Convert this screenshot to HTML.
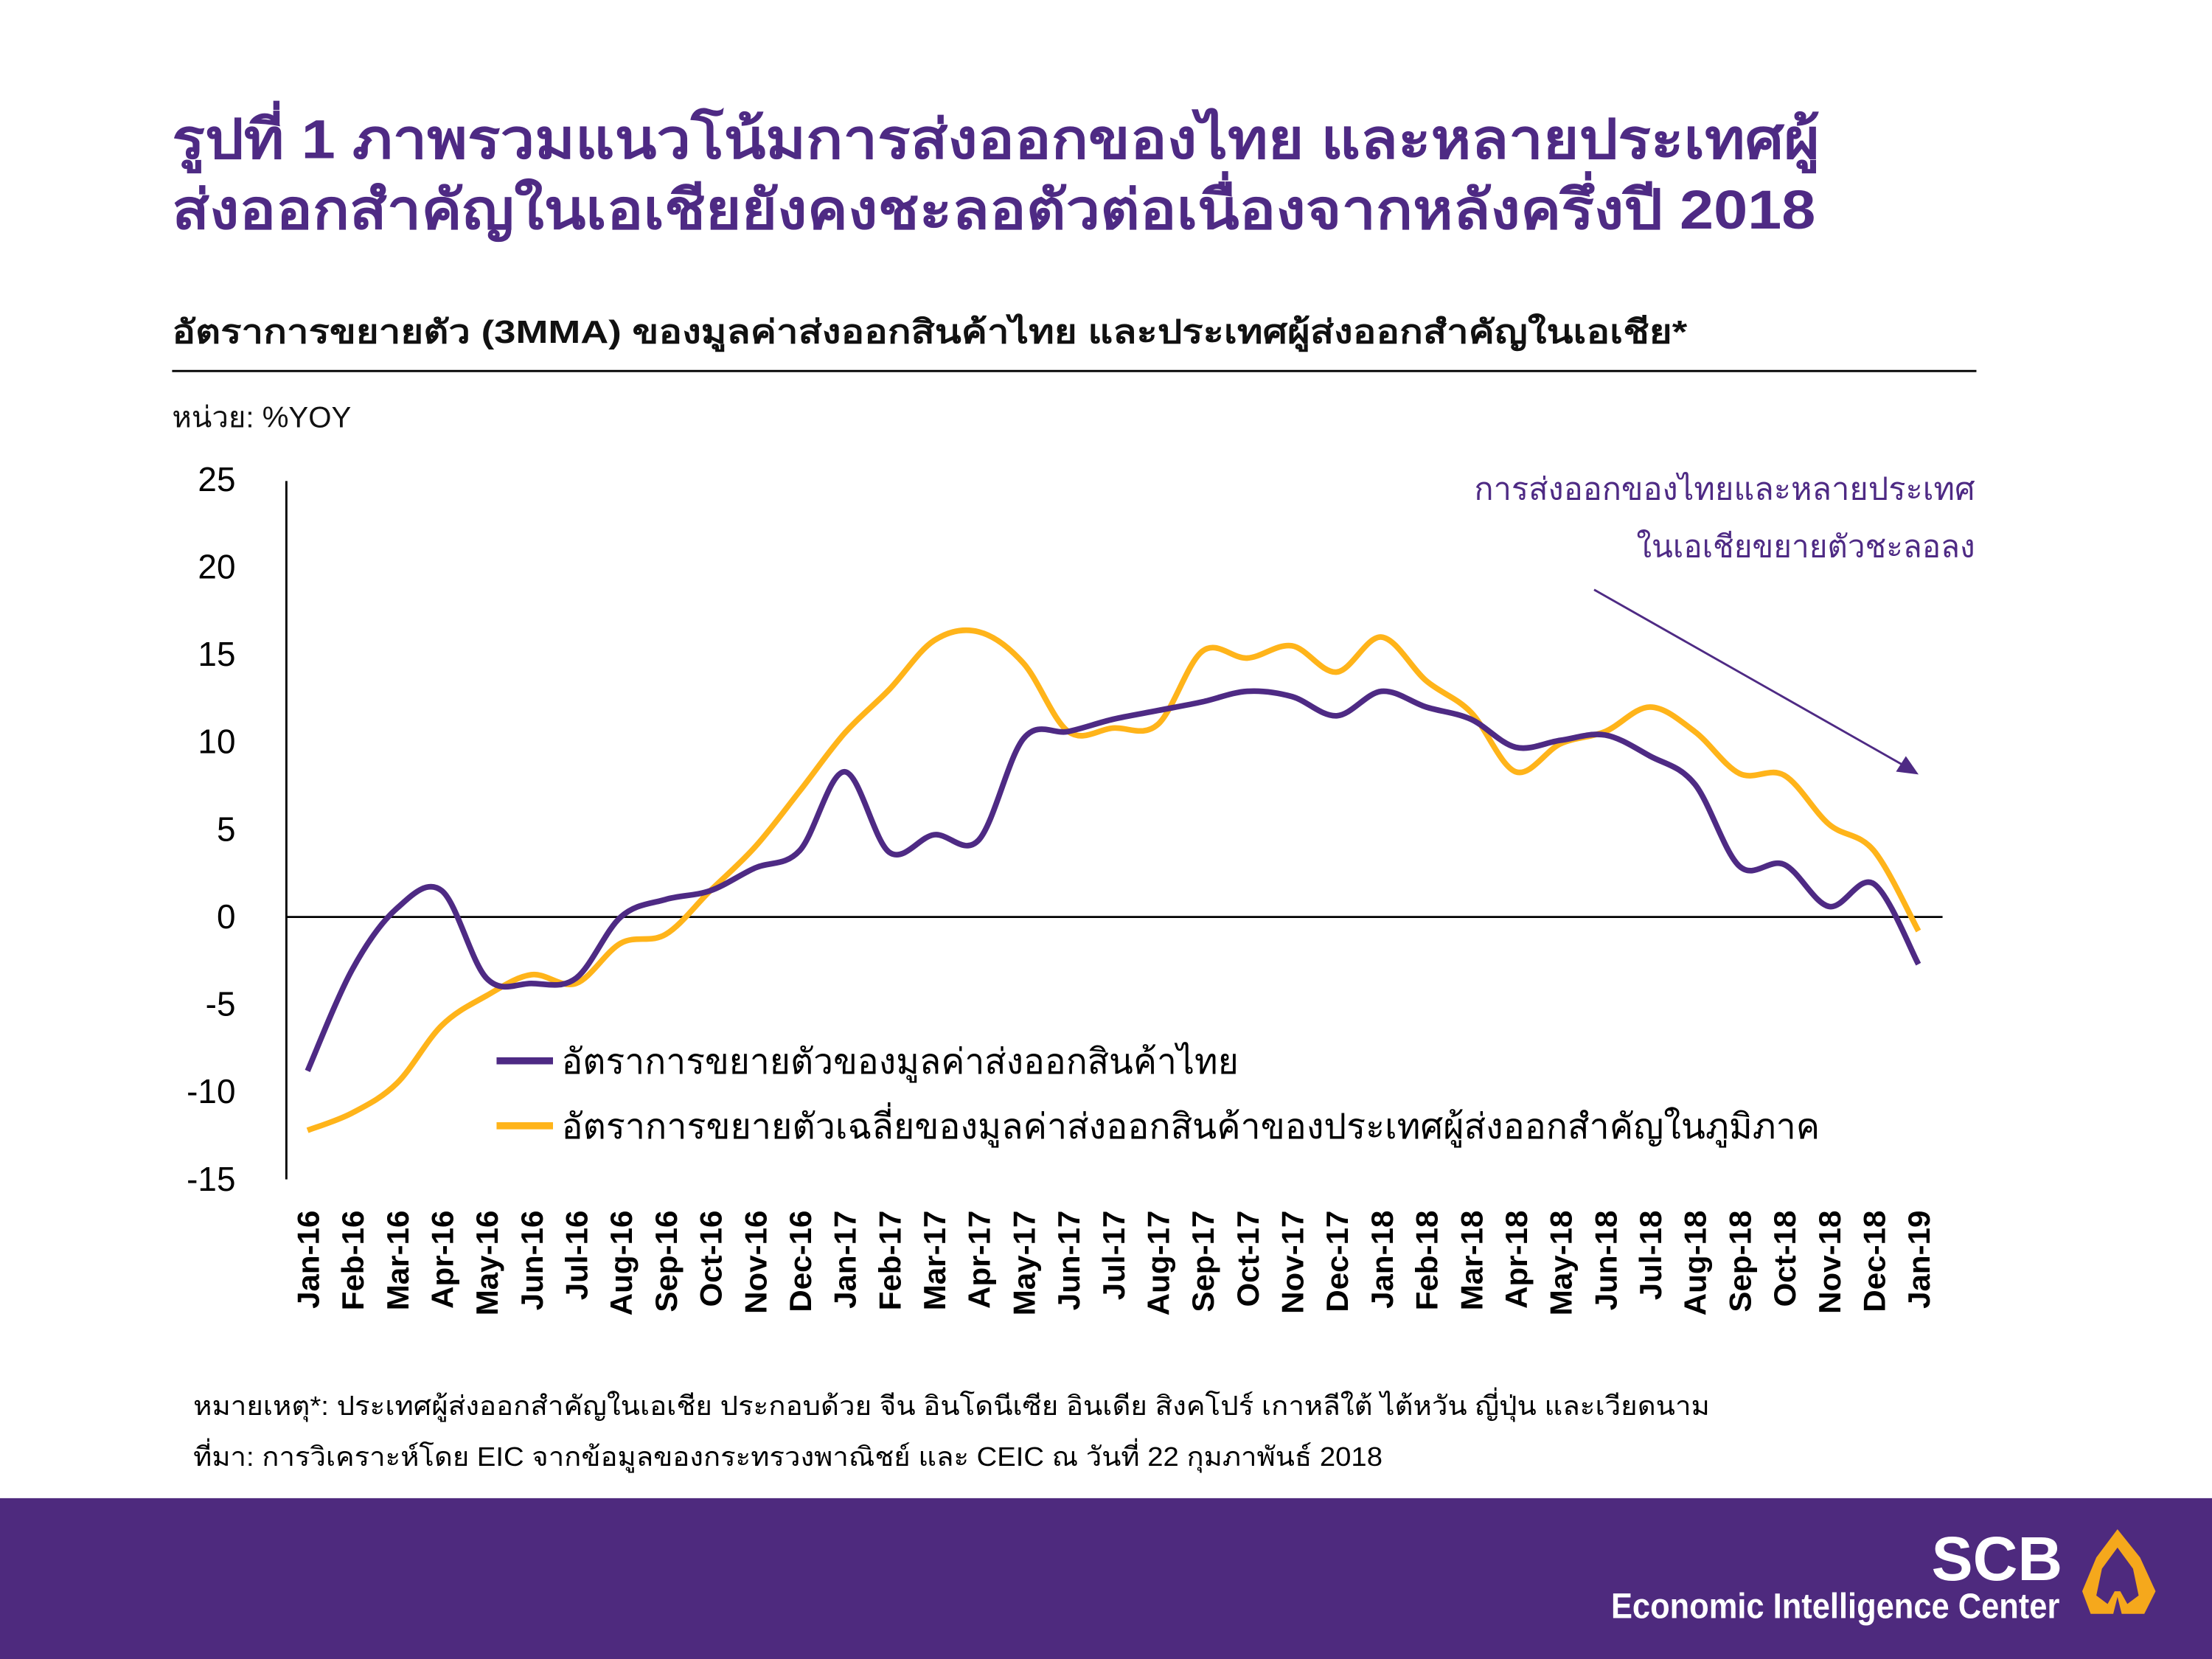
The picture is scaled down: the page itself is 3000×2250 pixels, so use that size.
<!DOCTYPE html>
<html><head><meta charset="utf-8">
<style>
html,body{margin:0;padding:0;background:#fff;}
svg{display:block;}
text{font-family:"Liberation Sans","DejaVu Sans",sans-serif;}
</style></head>
<body>
<svg id="s" width="3000" height="2250" viewBox="0 0 1568 1176" xmlns="http://www.w3.org/2000/svg">
<rect width="1568" height="1176" fill="#fff"/>
<text x="122" y="112" font-size="39" font-weight="bold" fill="#4e2a84" textLength="1168" lengthAdjust="spacingAndGlyphs">รูปที่ 1 ภาพรวมแนวโน้มการส่งออกของไทย และหลายประเทศผู้</text>
<text x="122" y="162" font-size="39" font-weight="bold" fill="#4e2a84" textLength="1165" lengthAdjust="spacingAndGlyphs">ส่งออกสำคัญในเอเชียยังคงชะลอตัวต่อเนื่องจากหลังครึ่งปี 2018</text>
<text x="122" y="243" font-size="23" font-weight="bold" fill="#111" textLength="1074" lengthAdjust="spacingAndGlyphs">อัตราการขยายตัว (3MMA) ของมูลค่าส่งออกสินค้าไทย และประเทศผู้ส่งออกสำคัญในเอเชีย*</text>
<line x1="122" y1="263" x2="1401" y2="263" stroke="#000" stroke-width="1.5"/>
<text x="122" y="303" font-size="21" fill="#111">หน่วย: %YOY</text>
<g font-size="24" fill="#000" text-anchor="end">
<text x="167" y="348">25</text><text x="167" y="410">20</text><text x="167" y="472">15</text>
<text x="167" y="534">10</text><text x="167" y="596">5</text><text x="167" y="658">0</text>
<text x="167" y="720">-5</text><text x="167" y="782">-10</text><text x="167" y="844">-15</text>
</g>
<line x1="203" y1="341" x2="203" y2="836" stroke="#000" stroke-width="1.5"/>
<line x1="203" y1="650" x2="1377" y2="650" stroke="#000" stroke-width="1.5"/>
<g id="xl" font-size="22" font-weight="bold" fill="#000"></g>
<path id="py" fill="none" stroke="#ffb41a" stroke-width="4"/>
<path id="pp" fill="none" stroke="#4e2a84" stroke-width="4"/>
<text x="1400" y="354" font-size="22" fill="#4e2a84" text-anchor="end" textLength="355" lengthAdjust="spacingAndGlyphs">การส่งออกของไทยและหลายประเทศ</text>
<text x="1400" y="395" font-size="22" fill="#4e2a84" text-anchor="end" textLength="240" lengthAdjust="spacingAndGlyphs">ในเอเชียขยายตัวชะลอลง</text>
<line x1="1130" y1="418" x2="1352" y2="544" stroke="#4e2a84" stroke-width="1.5"/>
<polygon points="1360,549 1344,547 1351,536" fill="#4e2a84"/>
<line x1="352" y1="752" x2="392" y2="752" stroke="#4e2a84" stroke-width="5"/>
<line x1="352" y1="798" x2="392" y2="798" stroke="#ffb41a" stroke-width="5"/>
<text x="398" y="761" font-size="25" fill="#000" textLength="480" lengthAdjust="spacingAndGlyphs">อัตราการขยายตัวของมูลค่าส่งออกสินค้าไทย</text>
<text x="398" y="807" font-size="25" fill="#000" textLength="892" lengthAdjust="spacingAndGlyphs">อัตราการขยายตัวเฉลี่ยของมูลค่าส่งออกสินค้าของประเทศผู้ส่งออกสำคัญในภูมิภาค</text>
<text x="137" y="1003" font-size="19" fill="#000" textLength="1075" lengthAdjust="spacingAndGlyphs">หมายเหตุ*: ประเทศผู้ส่งออกสำคัญในเอเชีย ประกอบด้วย จีน อินโดนีเซีย อินเดีย สิงคโปร์ เกาหลีใต้ ไต้หวัน ญี่ปุ่น และเวียดนาม</text>
<text x="137" y="1039" font-size="19" fill="#000" textLength="843" lengthAdjust="spacingAndGlyphs">ที่มา: การวิเคราะห์โดย EIC จากข้อมูลของกระทรวงพาณิชย์ และ CEIC ณ วันที่ 22 กุมภาพันธ์ 2018</text>
<rect x="0" y="1062" width="1568" height="114" fill="#4e2a7e"/>
<text x="1462" y="1120" font-size="44" font-weight="bold" fill="#fff" text-anchor="end">SCB</text>
<text x="1460" y="1147" font-size="25" font-weight="bold" fill="#fff" text-anchor="end" textLength="318" lengthAdjust="spacingAndGlyphs">Economic Intelligence Center</text>
<path d="M1501,1084 L1486,1104 L1476,1128 L1482,1144 L1498,1144 L1501,1132 L1504,1144 L1520,1144 L1528,1128 L1517,1104 Z M1501,1097 L1490,1112 L1486,1131 L1494,1137 L1499,1128 L1503,1128 L1508,1137 L1516,1131 L1512,1112 Z" fill="#f5a81c" fill-rule="evenodd"/>
</svg>
<script>
var P=[-8.8,-3,0.5,1.5,-3.5,-3.8,-3.5,0,1,1.5,2.8,3.8,8.3,3.7,4.7,4.4,10.2,10.6,11.3,11.8,12.3,12.9,12.6,11.5,12.9,12,11.3,9.7,10.1,10.4,9.2,7.6,2.9,3,0.6,1.9,-2.7];
var Y=[-12.2,-11.2,-9.5,-6.2,-4.5,-3.3,-3.8,-1.5,-1,1.5,4,7.2,10.5,13,15.8,16.3,14.5,10.6,10.8,11,15.2,14.8,15.5,14,16,13.5,11.7,8.3,9.9,10.6,12,10.6,8.2,8.1,5.3,3.8,-0.8];
function X(i){return 218+i*31.72;} function V(v){return 650-v*12.4;}
function path(a){var p=a.map(function(v,i){return [X(i),V(v)];});var d="M"+p[0][0]+","+p[0][1];
for(var i=0;i<p.length-1;i++){var p0=p[i-1]||p[i],p1=p[i],p2=p[i+1],p3=p[i+2]||p2;
d+=" C"+(p1[0]+(p2[0]-p0[0])/6)+","+(p1[1]+(p2[1]-p0[1])/6)+" "+(p2[0]-(p3[0]-p1[0])/6)+","+(p2[1]-(p3[1]-p1[1])/6)+" "+p2[0]+","+p2[1];}return d;}
document.getElementById("pp").setAttribute("d",path(P));
document.getElementById("py").setAttribute("d",path(Y));
var m=["Jan","Feb","Mar","Apr","May","Jun","Jul","Aug","Sep","Oct","Nov","Dec"];
var g=document.getElementById("xl"),ns="http://www.w3.org/2000/svg";
for(var i=0;i<37;i++){var t=document.createElementNS(ns,"text");var x=X(i)+8;
t.setAttribute("x",x);t.setAttribute("y",858);t.setAttribute("text-anchor","end");
t.setAttribute("transform","rotate(-90 "+x+" 858)");
t.textContent=m[i%12]+"-"+(16+Math.floor(i/12));g.appendChild(t);}
</script>
</body></html>
